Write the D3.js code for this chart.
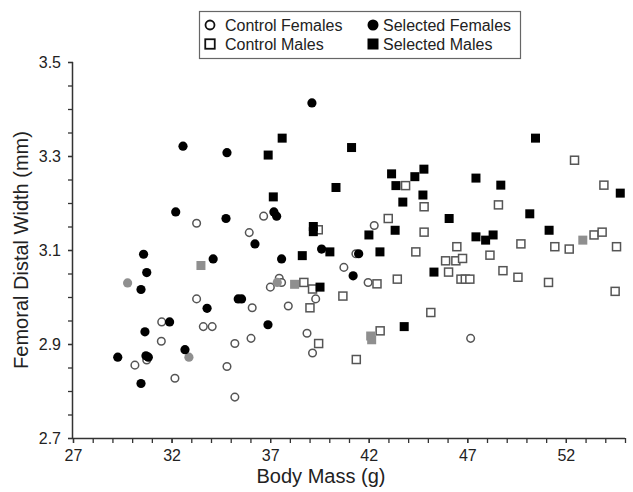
<!DOCTYPE html>
<html>
<head>
<meta charset="utf-8">
<script src="https://cdn.jsdelivr.net/npm/d3@7"></script>
<style>
  html, body { margin: 0; padding: 0; background: #fff; }
  svg { display: block; font-family: "Liberation Sans", Arial, sans-serif; }
</style>
</head>
<body>
<svg id="chart" width="633" height="492"></svg>
<script>
// ---- Data: [body mass (g), femoral distal width (mm)] ----
const controlFemales = [
  [31.5,2.947],[31.48,2.906],[30.74,2.866],[30.14,2.855],[32.17,2.827],
  [33.27,3.157],[36.67,3.172],[35.94,3.137],[37.46,3.040],[37.01,3.021],
  [37.58,3.031],[39.31,2.996],[33.27,2.996],[36.09,2.977],[37.92,2.981],
  [33.61,2.937],[34.06,2.937],[38.87,2.923],[39.15,2.881],[35.21,2.901],
  [36.03,2.912],[34.81,2.852],[35.21,2.787],[42.28,3.152],[41.35,3.092],
  [40.74,3.063],[41.97,3.031],[47.17,2.912]
];
const selectedFemales = [
  [32.21,3.181],[30.58,3.091],[30.74,3.052],[30.45,3.016],[31.9,2.947],
  [30.65,2.926],[29.27,2.872],[30.70,2.875],[30.82,2.872],[30.45,2.816],
  [39.12,3.413],[32.58,3.321],[34.81,3.307],[34.76,3.167],[37.19,3.181],
  [37.33,3.172],[36.23,3.113],[39.61,3.102],[34.11,3.081],[37.58,3.081],
  [33.80,2.976],[35.38,2.996],[35.55,2.996],[36.89,2.941],[32.68,2.888],
  [41.49,3.092],[41.21,3.045]
];
const controlMales = [
  [39.44,3.143],[38.71,3.031],[39.15,3.017],[39.02,2.977],[39.46,2.901],
  [43.87,3.237],[44.81,3.192],[42.99,3.167],[44.81,3.138],[46.47,3.107],
  [44.39,3.096],[45.90,3.077],[46.42,3.077],[46.76,3.082],[46.05,3.053],
  [46.68,3.038],[46.90,3.038],[47.13,3.038],[42.42,3.028],[43.45,3.038],
  [40.69,3.002],[45.15,2.967],[42.58,2.928],[41.37,2.867],[52.44,3.291],
  [53.93,3.238],[48.58,3.196],[49.72,3.113],[53.43,3.132],[53.84,3.138],
  [51.44,3.107],[52.17,3.102],[54.57,3.107],[48.15,3.089],[48.81,3.056],
  [49.57,3.042],[51.12,3.031],[54.50,3.012]
];
const selectedMales = [
  [37.61,3.338],[36.90,3.302],[37.16,3.213],[39.19,3.150],[39.19,3.139],
  [38.63,3.088],[39.53,3.021],[41.13,3.318],[43.16,3.262],[44.80,3.272],
  [44.34,3.256],[43.38,3.237],[40.34,3.233],[47.44,3.253],[43.73,3.202],
  [44.75,3.217],[46.08,3.167],[42.01,3.132],[43.34,3.142],[47.44,3.128],
  [40.03,3.096],[42.57,3.096],[45.31,3.053],[43.80,2.937],[50.46,3.338],
  [48.70,3.238],[54.76,3.221],[50.17,3.177],[51.15,3.142],[47.93,3.121],
  [48.31,3.132]
];
const grayFemales = [[29.77,3.030],[32.88,2.872],[37.36,3.031]];
const grayMales = [[33.49,3.067],[38.24,3.027],[42.10,2.917],[42.15,2.909],[52.86,3.121]];

const xTickValues = [27, 32, 37, 42, 47, 52];
const yTickValues = [2.7, 2.9, 3.1, 3.3, 3.5];
const legendLabels = ["Control Females", "Selected Females", "Control Males", "Selected Males"];
const xTitle = "Body Mass (g)";
const yTitle = "Femoral Distal Width (mm)";

// ---- Layout ----
const svg = d3.select("#chart");
const pL = 73, pR = 625, pT = 62, pB = 438;
const x = d3.scaleLinear().domain([27, 55]).range([pL, pR]);
const y = d3.scaleLinear().domain([2.7, 3.5]).range([pB, pT]);
const axisColor = "#333";
const openStroke = "#555";
const grayFill = "#8f8f8f";

const xMinor = d3.range(27, 56, 1);
const yMinor = d3.range(0, 17).map(i => 2.7 + i * 0.05);

function styleAxis(g) {
  g.selectAll("line").attr("stroke", axisColor).attr("stroke-width", 1.3);
  g.selectAll("path").attr("stroke", axisColor).attr("stroke-width", 1.5);
  g.selectAll("text").attr("font-size", 16).attr("fill", "#222")
    .attr("font-family", '"Liberation Sans", Arial, sans-serif');
}

const gx = svg.append("g").attr("transform", `translate(0,${pB})`)
  .call(d3.axisBottom(x).tickValues(xMinor).tickSize(5).tickFormat(""));
gx.select(".domain").remove();
const gx2 = svg.append("g").attr("transform", `translate(0,${pB})`)
  .call(d3.axisBottom(x).tickValues(xTickValues).tickSize(5).tickPadding(7).tickFormat(d3.format("d")));
styleAxis(gx); styleAxis(gx2);

const gy = svg.append("g").attr("transform", `translate(${pL},0)`)
  .call(d3.axisLeft(y).tickValues(yMinor).tickSize(5).tickFormat(""));
gy.select(".domain").remove();
const gy2 = svg.append("g").attr("transform", `translate(${pL},0)`)
  .call(d3.axisLeft(y).tickValues(yTickValues).tickSize(5).tickPadding(7).tickFormat(d3.format(".1f")));
styleAxis(gy); styleAxis(gy2);
gx2.select(".domain").attr("d", `M${pL},0.5H${pR}`);
gy2.select(".domain").attr("d", `M-0.5,${pT}V${pB}`);

// axis titles
svg.append("text").attr("x", 321).attr("y", 483).attr("text-anchor", "middle")
  .attr("font-size", 20).attr("fill", "#222").text(xTitle);
svg.append("text").attr("transform", `translate(28,${(pT + pB) / 2}) rotate(-90)`)
  .attr("text-anchor", "middle").attr("font-size", 20).attr("fill", "#222").text(yTitle);

// ---- Markers ----
const rFill = 4.6, rOpen = 3.8, sFill = 9, sOpen = 8;
function circles(data, fill, stroke, r) {
  svg.append("g").selectAll("circle").data(data).join("circle")
    .attr("cx", d => x(d[0])).attr("cy", d => y(d[1])).attr("r", r)
    .attr("fill", fill).attr("stroke", stroke).attr("stroke-width", stroke === "none" ? 0 : 1.5);
}
function squares(data, fill, stroke, s) {
  svg.append("g").selectAll("rect").data(data).join("rect")
    .attr("x", d => x(d[0]) - s / 2).attr("y", d => y(d[1]) - s / 2)
    .attr("width", s).attr("height", s)
    .attr("fill", fill).attr("stroke", stroke).attr("stroke-width", stroke === "none" ? 0 : 1.5);
}
circles(controlFemales, "#fff", openStroke, rOpen);
squares(controlMales, "#fff", openStroke, sOpen);
circles(grayFemales, grayFill, "none", rFill);
squares(grayMales, grayFill, "none", sFill);
circles(selectedFemales, "#000", "none", rFill);
squares(selectedMales, "#000", "none", sFill);

// ---- Legend ----
const lg = svg.append("g");
lg.append("rect").attr("x", 199.5).attr("y", 11.5).attr("width", 321).attr("height", 47)
  .attr("fill", "#fff").attr("stroke", "#666").attr("stroke-width", 1.2);
const legendItems = [
  {label: legendLabels[0], shape: "circle", fill: "#fff", mx: 210, tx: 225, cy: 25},
  {label: legendLabels[1], shape: "circle", fill: "#000", mx: 373, tx: 383, cy: 25},
  {label: legendLabels[2], shape: "square", fill: "#fff", mx: 210, tx: 225, cy: 44},
  {label: legendLabels[3], shape: "square", fill: "#000", mx: 373, tx: 383, cy: 44}
];
legendItems.forEach(it => {
  if (it.shape === "circle") {
    lg.append("circle").attr("cx", it.mx).attr("cy", it.cy)
      .attr("r", it.fill === "#000" ? 5.5 : 4.5)
      .attr("fill", it.fill).attr("stroke", it.fill === "#000" ? "none" : "#111").attr("stroke-width", 1.8);
  } else {
    const s = it.fill === "#000" ? 11 : 9.5;
    lg.append("rect").attr("x", it.mx - s / 2).attr("y", it.cy - s / 2).attr("width", s).attr("height", s)
      .attr("fill", it.fill).attr("stroke", it.fill === "#000" ? "none" : "#111").attr("stroke-width", 1.8);
  }
  lg.append("text").attr("x", it.tx).attr("y", it.cy + 6).attr("font-size", 16).attr("fill", "#222")
    .text(it.label);
});
</script>
</body>
</html>
